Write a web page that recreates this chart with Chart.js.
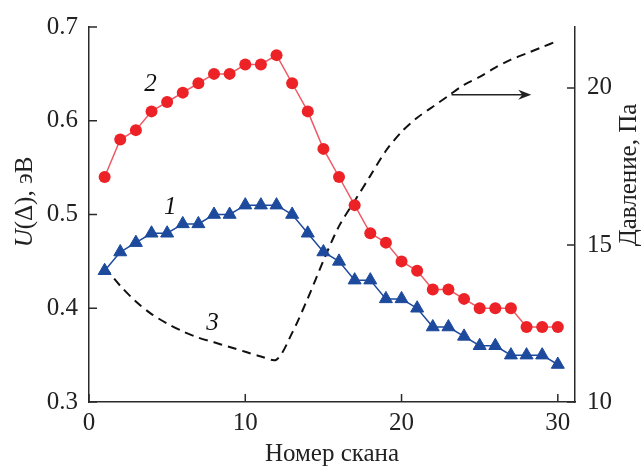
<!DOCTYPE html>
<html>
<head>
<meta charset="utf-8">
<script src="https://cdn.jsdelivr.net/npm/chart.js@4/dist/chart.umd.min.js"></script>
<style>
  html, body { margin: 0; padding: 0; background: #fff; }
  #wrap { width: 643px; height: 467px; }
</style>
</head>
<body>
<div id="wrap"><canvas id="chart" width="643" height="467"></canvas></div>
<script>
// --- data ---
const scans = [1, 2, 3, 4, 5, 6, 7, 8, 9, 10, 11, 12, 13, 14, 15, 16, 17, 18, 19, 20, 21, 22, 23, 24, 25, 26, 27, 28, 29, 30];
const curve1 = [0.44, 0.46, 0.47, 0.48, 0.48, 0.49, 0.49, 0.50, 0.50, 0.51, 0.51, 0.51, 0.50, 0.48, 0.46,
                0.45, 0.43, 0.43, 0.41, 0.41, 0.40, 0.38, 0.38, 0.37, 0.36, 0.36, 0.35, 0.35, 0.35, 0.34];
const curve2 = [0.54, 0.58, 0.59, 0.61, 0.62, 0.63, 0.64, 0.65, 0.65, 0.66, 0.66, 0.67, 0.64, 0.61, 0.57,
                0.54, 0.51, 0.48, 0.47, 0.45, 0.44, 0.42, 0.42, 0.41, 0.40, 0.40, 0.40, 0.38, 0.38, 0.38];
// давление, Па (правая ось)
const pressure = [14.3, 13.7, 13.2, 12.8, 12.5, 12.25, 12.05, 11.9, 11.75, 11.6, 11.45, 11.35, 12.2, 13.3, 14.5,
                  15.6, 16.4, 17.2, 18.0, 18.6, 19.05, 19.4, 19.75, 20.1, 20.35, 20.65, 20.9, 21.1, 21.3, 21.5];
const xTicks = [0, 10, 20, 30];
const leftTicks = [0.3, 0.4, 0.5, 0.6, 0.7];
const rightTicks = [10, 15, 20];
// curve numbers: [label, scan, value, axis]
const curveLabels = [['1', 5.2, 0.508, 'y'], ['2', 3.93, 0.639, 'y'], ['3', 7.9, 0.384, 'y']];
const arrowFrom = [23.2, 19.78];
const arrowTo = [28.3, 19.78];

const FONT = "'Liberation Serif', 'DejaVu Serif', serif";
const INK = '#2a2a2a';

function pts(ys) { return scans.map((x, i) => ({ x: x, y: ys[i] })); }

// inward ticks, titles, curve numbers and the arrow
const decor = {
    id: 'decor',
    afterDatasetsDraw(chart) {
        const ctx = chart.ctx;
        const { x, y, y2 } = chart.scales;
        const area = chart.chartArea;
        ctx.save();
        ctx.strokeStyle = INK;
        ctx.lineWidth = 1.5;
        ctx.beginPath();
        xTicks.forEach(v => { const p = x.getPixelForValue(v); ctx.moveTo(p, area.bottom); ctx.lineTo(p, area.bottom - 8); });
        leftTicks.forEach(v => { const p = y.getPixelForValue(v); ctx.moveTo(area.left, p); ctx.lineTo(area.left + 8, p); });
        rightTicks.forEach(v => { const p = y2.getPixelForValue(v); ctx.moveTo(area.right, p); ctx.lineTo(area.right - 8, p); });
        ctx.stroke();

        // curve numbers
        ctx.fillStyle = '#111';
        ctx.font = 'italic 25px ' + FONT;
        ctx.textAlign = 'center';
        ctx.textBaseline = 'middle';
        curveLabels.forEach(l => {
            ctx.fillText(l[0], x.getPixelForValue(l[1]), chart.scales[l[3]].getPixelForValue(l[2]));
        });

        // arrow towards the pressure axis
        const ax0 = x.getPixelForValue(arrowFrom[0]), ay = y2.getPixelForValue(arrowFrom[1]);
        const ax1 = x.getPixelForValue(arrowTo[0]);
        ctx.strokeStyle = '#222';
        ctx.lineWidth = 1.5;
        ctx.beginPath();
        ctx.moveTo(ax0, ay); ctx.lineTo(ax1 - 6, ay);
        ctx.stroke();
        ctx.fillStyle = '#222';
        ctx.beginPath();
        ctx.moveTo(ax1, ay); ctx.lineTo(ax1 - 13, ay - 5); ctx.lineTo(ax1 - 9, ay); ctx.lineTo(ax1 - 13, ay + 5);
        ctx.closePath();
        ctx.fill();

        // axis titles
        ctx.fillStyle = '#222';
        ctx.font = '25px ' + FONT;
        ctx.textBaseline = 'middle';
        ctx.textAlign = 'center';
        ctx.fillText('Номер скана', (area.left + area.right) / 2, 454);

        ctx.save();
        ctx.translate(25, 202);
        ctx.rotate(-Math.PI / 2);
        ctx.font = 'italic 25px ' + FONT;
        const wU = ctx.measureText('U').width;
        ctx.font = '25px ' + FONT;
        const wRest = ctx.measureText('(Δ), эВ').width;
        const start = -(wU + wRest) / 2;
        ctx.textAlign = 'left';
        ctx.font = 'italic 25px ' + FONT;
        ctx.fillText('U', start, 0);
        ctx.font = '25px ' + FONT;
        ctx.fillText('(Δ), эВ', start + wU, 0);
        ctx.restore();

        ctx.save();
        ctx.translate(629, 175);
        ctx.rotate(-Math.PI / 2);
        ctx.textAlign = 'center';
        ctx.fillText('Давление, Па', 0, 0);
        ctx.restore();
        ctx.restore();
    }
};

const ctx = document.getElementById('chart').getContext('2d');
const chart = new Chart(ctx, {
    type: 'line',
    data: {
        datasets: [
            {
                label: '3',
                data: pts(pressure),
                yAxisID: 'y2',
                borderColor: '#111',
                borderWidth: 2,
                borderDash: [9, 6],
                pointRadius: 0,
                tension: 0.3,
                order: 3
            },
            {
                label: '1',
                data: pts(curve1),
                yAxisID: 'y',
                borderColor: '#1d4a9c',
                backgroundColor: '#1d4a9c',
                borderWidth: 1.5,
                pointStyle: 'triangle',
                pointRadius: 7.5,
                pointBorderWidth: 1,
                pointBorderColor: '#1d4a9c',
                order: 2
            },
            {
                label: '2',
                data: pts(curve2),
                yAxisID: 'y',
                borderColor: '#ee5a66',
                backgroundColor: '#ec2227',
                borderWidth: 1.5,
                pointStyle: 'circle',
                pointRadius: 6,
                pointBorderWidth: 0,
                order: 1
            }
        ]
    },
    options: {
        responsive: false,
        animation: false,
        layout: { padding: { top: 27, left: 0, right: 0, bottom: 0 } },
        plugins: { legend: { display: false }, tooltip: { enabled: false } },
        scales: {
            x: {
                type: 'linear',
                min: 0,
                max: 31.1,
                afterBuildTicks: s => { s.ticks = xTicks.map(v => ({ value: v })); },
                afterFit: s => { s.height = 65; },
                grid: { display: false, drawTicks: false },
                border: { display: true, color: INK, width: 1.5 },
                ticks: { font: { family: FONT, size: 25 }, color: '#222', padding: 6, maxRotation: 0 }
            },
            y: {
                position: 'left',
                min: 0.3,
                max: 0.7,
                afterBuildTicks: s => { s.ticks = leftTicks.map(v => ({ value: v })); },
                afterFit: s => { s.width = 89; },
                grid: { display: false, drawTicks: false },
                border: { display: true, color: INK, width: 1.5 },
                ticks: { font: { family: FONT, size: 25 }, color: '#222', padding: 11, callback: v => v.toFixed(1) }
            },
            y2: {
                position: 'right',
                min: 10,
                max: 21.94,
                afterBuildTicks: s => { s.ticks = rightTicks.map(v => ({ value: v })); },
                afterFit: s => { s.width = 68; },
                grid: { display: false, drawTicks: false },
                border: { display: true, color: INK, width: 1.5 },
                ticks: { font: { family: FONT, size: 25 }, color: '#222', padding: 12 }
            }
        }
    },
    plugins: [decor]
});
</script>
</body>
</html>
